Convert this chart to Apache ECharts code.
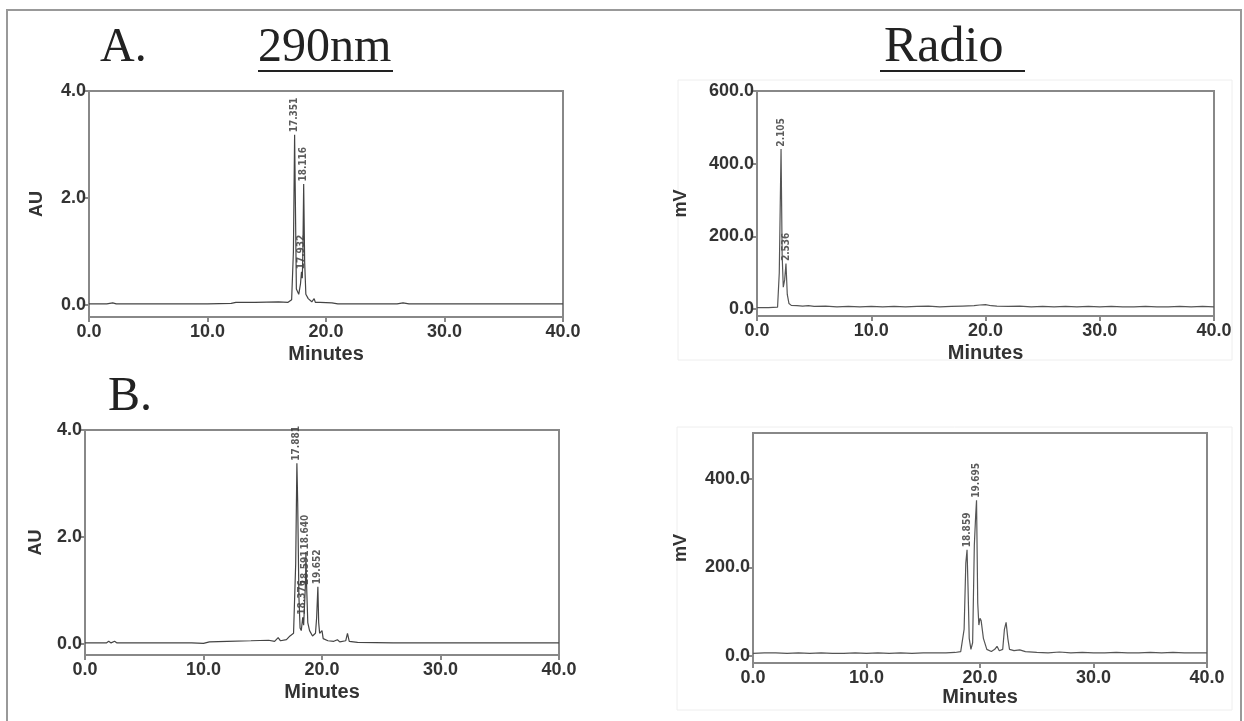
<!DOCTYPE html>
<html>
<head>
<meta charset="utf-8">
<script src="https://cdn.jsdelivr.net/npm/echarts@6.0.0/dist/echarts.min.js"></script>
<style>
  html,body{margin:0;padding:0;background:#fff;}
  #chart{width:1244px;height:721px;}
</style>
</head>
<body>
<div id="chart"></div>
<script>
  // x ticks shared by all four chromatograms (minutes)
  var minuteTicks = [0, 10, 20, 30, 40];
  var auTicks = [0, 2, 4];
  var mvTicksA = [0, 200, 400, 600];
  var mvTicksB = [0, 200, 400];

  // A. 290nm trace [minutes, AU]
  var uvA = [[0,0.02],[1.5,0.02],[2.0,0.04],[2.3,0.02],[5,0.02],[8,0.02],[10,0.02],[12,0.03],[12.4,0.05],[14,0.05],
    [16,0.06],[16.8,0.05],[17.1,0.1],[17.25,1.0],[17.351,3.18],[17.42,1.85],[17.5,0.3],[17.7,0.2],[17.85,0.4],[17.932,0.62],
    [18.0,0.5],[18.05,1.0],[18.116,2.26],[18.2,0.8],[18.3,0.2],[18.5,0.12],[18.8,0.06],[19.0,0.12],[19.1,0.05],[19.5,0.05],
    [20.5,0.04],[21,0.02],[26,0.02],[26.5,0.04],[27,0.02],[40,0.02]];
  var peaksUvA = [[17.351,3.18],[18.116,2.26],[17.932,0.62]];

  // A. Radio trace [minutes, mV]
  var radA = [[0,4],[1,4],[1.8,5],[1.95,100],[2.105,440],[2.2,150],[2.3,60],[2.42,80],[2.536,125],[2.65,40],[2.8,15],
    [3.0,10],[3.5,9],[4,8],[4.5,9],[5,7],[6,8],[7,6],[8,7],[9,6],[10,7],[11,6],[12,7],[13,6],[14,7],[15,8],[16,6],[17,7],
    [18,8],[19,9],[19.5,11],[20,12],[20.5,9],[21,8],[22,7],[23,8],[24,6],[25,7],[26,6],[27,7],[28,6],[29,7],[30,6],[31,7],
    [32,6],[33,6],[34,7],[35,6],[36,6],[37,7],[38,6],[39,7],[40,6]];
  var peaksRadA = [[2.105,440],[2.536,125]];

  // B. 290nm trace [minutes, AU]
  var uvB = [[0,0.02],[1.8,0.02],[2.0,0.05],[2.2,0.02],[2.5,0.05],[2.7,0.02],[5,0.02],[9,0.02],[10,0.01],[10.5,0.04],
    [12,0.05],[14,0.06],[15.5,0.07],[16,0.05],[16.3,0.12],[16.5,0.06],[17,0.08],[17.3,0.15],[17.6,0.2],[17.78,1.5],
    [17.881,3.38],[17.95,2.63],[18.05,0.9],[18.15,0.3],[18.25,0.25],[18.376,0.5],[18.45,0.35],[18.52,0.7],[18.591,1.05],
    [18.62,1.3],[18.64,1.72],[18.7,1.1],[18.8,0.4],[18.95,0.25],[19.2,0.15],[19.45,0.2],[19.55,0.5],[19.652,1.07],
    [19.72,0.4],[19.8,0.2],[20.0,0.25],[20.1,0.1],[20.5,0.06],[21,0.05],[21.3,0.08],[21.5,0.04],[22.0,0.06],[22.15,0.2],
    [22.3,0.05],[23,0.03],[26,0.02],[30,0.02],[40,0.02]];
  var peaksUvB = [[17.881,3.38],[18.376,0.5],[18.591,1.05],[18.640,1.72],[19.652,1.07]];

  // B. Radio trace [minutes, mV]
  var radB = [[0,6],[1,7],[2,7],[3,6],[4,7],[5,6],[6,7],[7,6],[8,6],[9,7],[10,6],[11,7],[12,6],[13,7],[14,6],[15,7],
    [16,7],[17,7],[17.8,8],[18.3,10],[18.6,60],[18.75,210],[18.859,240],[18.95,150],[19.05,40],[19.2,15],[19.35,30],
    [19.5,250],[19.62,318],[19.695,352],[19.8,120],[19.9,70],[20.0,85],[20.1,80],[20.3,40],[20.6,15],[21.0,10],[21.3,15],
    [21.5,22],[21.7,12],[22.0,15],[22.15,60],[22.3,76],[22.45,40],[22.6,15],[23,12],[23.5,14],[24,10],[25,8],[26,7],
    [27,9],[28,7],[29,8],[30,7],[31,7],[32,8],[33,7],[34,7],[35,8],[36,7],[37,8],[38,7],[39,7],[40,7]];
  var peaksRadB = [[18.859,240],[19.695,352]];

  var axisGray = '#888';
  var sansFont = 'Liberation Sans, Arial, sans-serif';
  var labelFont = {color:'#333', fontSize:18, fontWeight:'bold', fontFamily:sansFont};

  function xAxisFor(idx, gap){
    return {
      type:'value', gridIndex:idx, min:0, max:40, interval:10,
      name:'Minutes', nameLocation:'middle', nameGap:gap,
      nameTextStyle:{color:'#333', fontSize:20, fontWeight:'bold', fontFamily:sansFont},
      axisLine:{show:true, onZero:false, lineStyle:{color:axisGray, width:2}},
      axisTick:{show:true, length:5, customValues:minuteTicks, lineStyle:{color:axisGray, width:2}},
      axisLabel:Object.assign({margin:6, customValues:minuteTicks, formatter:function(v){return v.toFixed(1);}}, labelFont),
      splitLine:{show:false}
    };
  }
  function yAxisFor(idx, name, min, max, ticks, gap){
    return {
      type:'value', gridIndex:idx, min:min, max:max,
      name:name, nameLocation:'middle', nameGap:gap, nameRotate:90,
      nameTextStyle:{color:'#333', fontSize:18, fontWeight:'bold', fontFamily:sansFont},
      axisLine:{show:true, lineStyle:{color:axisGray, width:2}},
      axisTick:{show:true, length:5, customValues:ticks, lineStyle:{color:axisGray, width:2}},
      axisLabel:Object.assign({margin:3, customValues:ticks, formatter:function(v){return v.toFixed(1);}}, labelFont),
      splitLine:{show:false}
    };
  }
  function traceSeries(idx, data, color){
    return {
      type:'line', xAxisIndex:idx, yAxisIndex:idx, data:data, symbol:'none',
      lineStyle:{color:color, width:1.2}, animation:false, clip:true
    };
  }
  function peakSeries(idx, data){
    return {
      type:'scatter', xAxisIndex:idx, yAxisIndex:idx, data:data, symbolSize:1,
      itemStyle:{color:'rgba(0,0,0,0)'}, animation:false,
      label:{
        show:true, position:'top', distance:2, rotate:90, align:'left', verticalAlign:'middle',
        fontSize:10, fontWeight:'bold', color:'#333',
        fontFamily:'DejaVu Sans Condensed, Liberation Sans Narrow, sans-serif',
        formatter:function(p){return p.value[0].toFixed(3);}
      }
    };
  }

  var chart = echarts.init(document.getElementById('chart'));
  var option = {
    backgroundColor:'#fff',
    animation:false,
    grid:[
      {left:89, top:91, width:474, height:226, show:true, borderColor:axisGray, borderWidth:2, outerBoundsMode:'none'},
      {left:757, top:91, width:457, height:225, show:true, borderColor:axisGray, borderWidth:2, outerBoundsMode:'none'},
      {left:85, top:430, width:474, height:225, show:true, borderColor:axisGray, borderWidth:2, outerBoundsMode:'none'},
      {left:753, top:433, width:454, height:230, show:true, borderColor:axisGray, borderWidth:2, outerBoundsMode:'none'}
    ],
    xAxis:[xAxisFor(0,27), xAxisFor(1,27), xAxisFor(2,27), xAxisFor(3,23)],
    yAxis:[
      yAxisFor(0,'AU',-0.224,4,auTicks,43),
      yAxisFor(1,'mV',-19.3,600,mvTicksA,67),
      yAxisFor(2,'AU',-0.206,4,auTicks,40),
      yAxisFor(3,'mV',-15.8,504,mvTicksB,63)
    ],
    series:[
      traceSeries(0, uvA, '#444'), peakSeries(0, peaksUvA),
      traceSeries(1, radA, '#555'), peakSeries(1, peaksRadA),
      traceSeries(2, uvB, '#444'), peakSeries(2, peaksUvB),
      traceSeries(3, radB, '#555'), peakSeries(3, peaksRadB)
    ],
    graphic:[
      {type:'rect', shape:{x:7, y:10, width:1234, height:730}, style:{fill:null, stroke:'#999', lineWidth:2}, silent:true},
      {type:'rect', shape:{x:678, y:80, width:554, height:280}, style:{fill:null, stroke:'#eeeeee', lineWidth:1}, silent:true},
      {type:'rect', shape:{x:677, y:427, width:555, height:283}, style:{fill:null, stroke:'#eeeeee', lineWidth:1}, silent:true},
      {type:'text', left:100, top:24, style:{text:'A.', font:'48px Liberation Serif, Times New Roman, serif', fill:'#222'}},
      {type:'text', left:258, top:24, style:{text:'290nm', font:'48px Liberation Serif, Times New Roman, serif', fill:'#222'}},
      {type:'line', shape:{x1:258, y1:71, x2:393, y2:71}, style:{stroke:'#222', lineWidth:2}},
      {type:'text', left:884, top:23, style:{text:'Radio', font:'50px Liberation Serif, Times New Roman, serif', fill:'#222'}},
      {type:'line', shape:{x1:880, y1:71, x2:1025, y2:71}, style:{stroke:'#222', lineWidth:2}},
      {type:'text', left:108, top:373, style:{text:'B.', font:'48px Liberation Serif, Times New Roman, serif', fill:'#222'}}
    ]
  };
  chart.setOption(option);
</script>
</body>
</html>
